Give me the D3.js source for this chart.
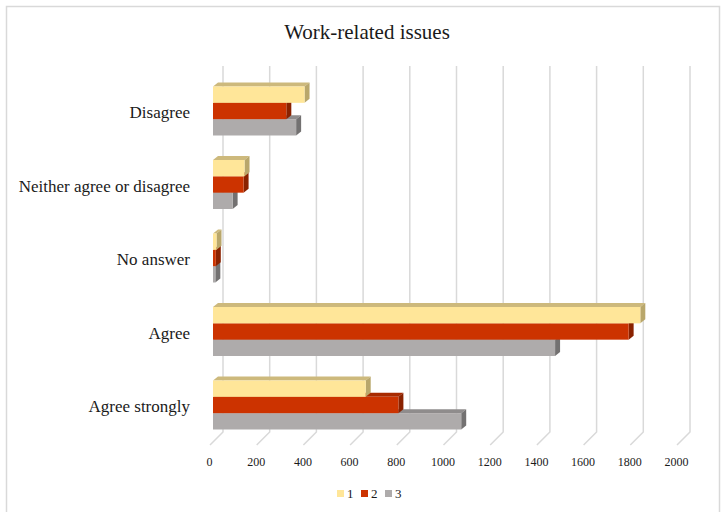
<!DOCTYPE html>
<html>
<head>
<meta charset="utf-8">
<script src="https://cdn.jsdelivr.net/npm/d3@7"></script>
<style>
body { margin: 0; background: #fff; }
text { font-family: "Liberation Serif", "Times New Roman", serif; fill: #1a1a1a; }
</style>
</head>
<body>
<svg id="chart" width="722" height="512"></svg>
<script>
// categories bottom -> top
var categories = ["Agree strongly", "Agree", "No answer", "Neither agree or disagree", "Disagree"];
var seriesNames = ["1", "2", "3"];
var series1 = [654, 1830, 15, 135, 392];
var series2 = [794, 1780, 12, 131, 314];
var series3 = [1063, 1465, 10, 84, 356];
var ticks = [0, 200, 400, 600, 800, 1000, 1200, 1400, 1600, 1800, 2000];

var colors = [
  {front: "#ffe699", top: "#cdb97c", side: "#b9a76b"},
  {front: "#cc3300", top: "#a82a00", side: "#8a2200"},
  {front: "#aeabab", top: "#8f8c8c", side: "#737171"}
];

var svg = d3.select("#chart");

// chart border
svg.append("rect")
  .attr("x", 6.5).attr("y", 6.5)
  .attr("width", 713).attr("height", 512)
  .attr("fill", "none")
  .attr("stroke", "#d9d9d9")
  .attr("stroke-width", 1.5);

svg.append("text")
  .attr("x", 367).attr("y", 39)
  .attr("text-anchor", "middle")
  .attr("font-size", "21px")
  .text("Work-related issues");

// back wall scale
var x = d3.scaleLinear().domain([0, 2000]).range([223, 690]);
var wallTop = 66, wallBottom = 432, depthX = -13, depthY = 13;

// gridlines (back wall + floor)
var grid = svg.append("g");
ticks.forEach(function(t) {
  grid.append("path")
    .attr("d", "M" + x(t) + "," + wallTop + "V" + wallBottom + "l" + depthX + "," + depthY)
    .attr("fill", "none")
    .attr("stroke", "#d9d9d9")
    .attr("stroke-width", 1.5);
});

// tick labels
svg.append("g").selectAll("text")
  .data(ticks)
  .enter().append("text")
  .attr("x", function(d) { return x(d) + depthX - 0.5; })
  .attr("y", 466)
  .attr("text-anchor", "middle")
  .attr("font-size", "12px")
  .text(function(d) { return d; });

var y = d3.scaleBand()
  .domain(categories.slice().reverse())
  .range([74.25, 441.75]);

var ySub = d3.scaleBand()
  .domain(seriesNames)
  .range([12.25, 61.25]);

// category labels
svg.append("g").selectAll("text")
  .data(categories)
  .enter().append("text")
  .attr("x", 190)
  .attr("y", function(d) { return y(d) + y.bandwidth() / 2 + 7; })
  .attr("text-anchor", "end")
  .attr("font-size", "17px")
  .text(function(d) { return d; });

// bars
var allSeries = [series1, series2, series3];
var barOffset = -10;   // front face shift from back wall
var bx = 5, by = -4;   // bar depth
var bars = svg.append("g");
for (var s = 2; s >= 0; s--) {
  categories.forEach(function(c, i) {
    var v = allSeries[s][i];
    var x0 = x(0) + barOffset, x1 = x(v) + barOffset;
    var y0 = y(c) + ySub(seriesNames[s]), h = ySub.bandwidth();
    var g = bars.append("g");
    g.append("path")
      .attr("d", "M" + x0 + "," + y0 + "l" + bx + "," + by + "H" + (x1 + bx) + "l" + (-bx) + "," + (-by) + "Z")
      .attr("fill", colors[s].top);
    g.append("path")
      .attr("d", "M" + x1 + "," + y0 + "l" + bx + "," + by + "v" + h + "l" + (-bx) + "," + (-by) + "Z")
      .attr("fill", colors[s].side);
    g.append("rect")
      .attr("x", x0).attr("y", y0)
      .attr("width", x1 - x0).attr("height", h)
      .attr("fill", colors[s].front);
  });
}

// legend
var legend = svg.append("g");
var lx = [337, 361, 385];
seriesNames.forEach(function(n, i) {
  legend.append("rect")
    .attr("x", lx[i]).attr("y", 490)
    .attr("width", 7).attr("height", 7)
    .attr("fill", colors[i].front);
  legend.append("text")
    .attr("x", lx[i] + 10).attr("y", 498)
    .attr("font-size", "13px")
    .text(n);
});
</script>
</body>
</html>
